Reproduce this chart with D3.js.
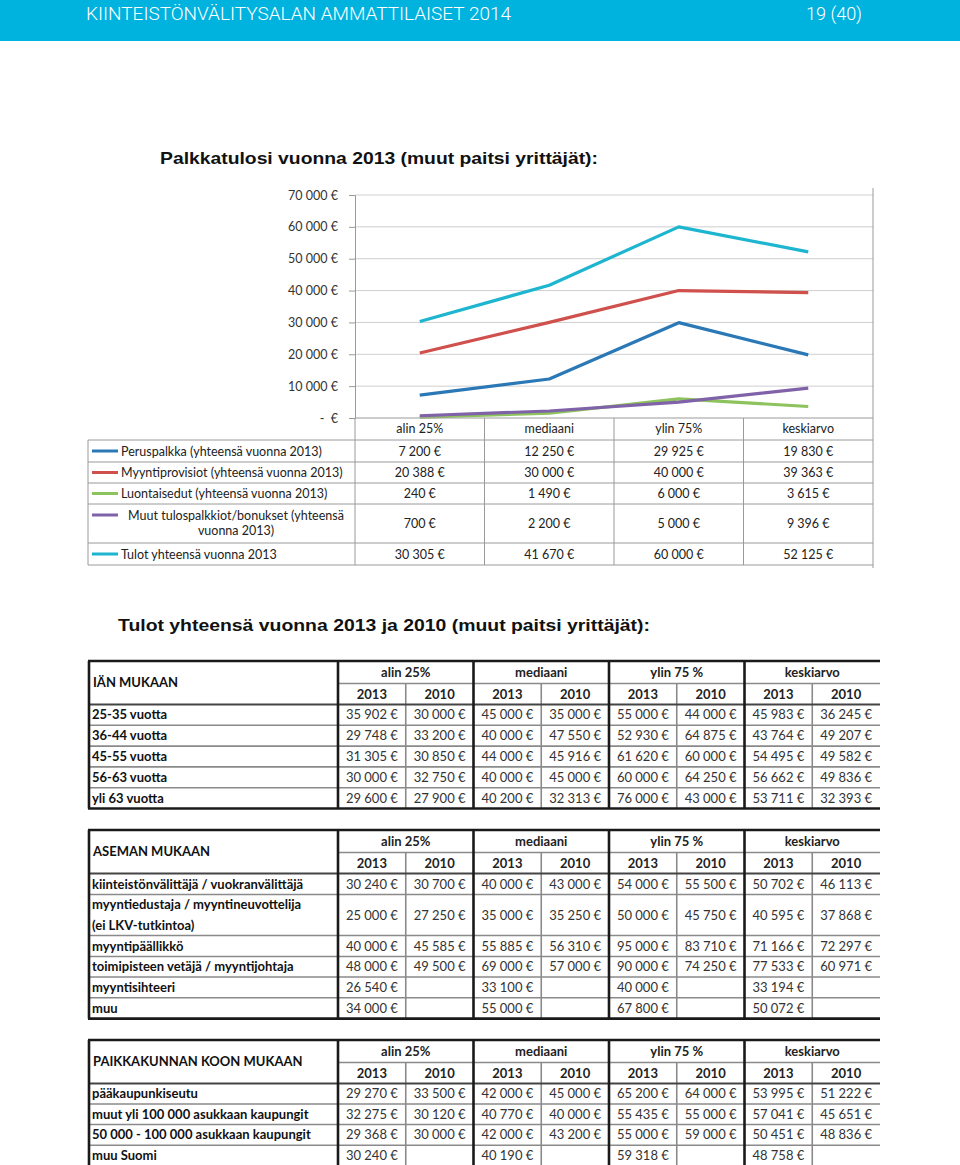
<!DOCTYPE html>
<html><head><meta charset="utf-8">
<script src="https://cdn.jsdelivr.net/npm/d3@7"></script>
<style>body{margin:0;background:#fff}svg{display:block}</style>
</head><body><svg id="c" width="960" height="1165"></svg>
<script>
// ---------- DATA ----------
const headerTitle = "KIINTEISTÖNVÄLITYSALAN AMMATTILAISET 2014";
const pageNo = "19 (40)";
const chartTitle = "Palkkatulosi vuonna 2013 (muut paitsi yrittäjät):";
const tableTitle = "Tulot yhteensä vuonna 2013 ja 2010 (muut paitsi yrittäjät):";

const categories = ["alin 25%", "mediaani", "ylin 75%", "keskiarvo"];
const seriesNames = [
  ["Peruspalkka (yhteensä vuonna 2013)"],
  ["Myyntiprovisiot (yhteensä vuonna 2013)"],
  ["Luontaisedut (yhteensä vuonna 2013)"],
  ["Muut tulospalkkiot/bonukset (yhteensä", "vuonna 2013)"],
  ["Tulot yhteensä vuonna 2013"]
];
const peruspalkka = [7200, 12250, 29925, 19830];
const myyntiprovisiot = [20388, 30000, 40000, 39363];
const luontaisedut = [240, 1490, 6000, 3615];
const muutBonukset = [700, 2200, 5000, 9396];
const tulotYhteensa = [30305, 41670, 60000, 52125];
const seriesColors = ["#2a78b6", "#cf504c", "#8dc35c", "#7f62a8", "#1db5cf"];
const yTicks = [0, 10000, 20000, 30000, 40000, 50000, 60000, 70000];

const groups = ["alin 25%", "mediaani", "ylin 75 %", "keskiarvo"];
const years = ["2013", "2010"];

const ageTitle = "IÄN MUKAAN";
const ageRows = [["25-35 vuotta"], ["36-44 vuotta"], ["45-55 vuotta"], ["56-63 vuotta"], ["yli 63 vuotta"]];
const ageValues = [
  [35902, 30000, 45000, 35000, 55000, 44000, 45983, 36245],
  [29748, 33200, 40000, 47550, 52930, 64875, 43764, 49207],
  [31305, 30850, 44000, 45916, 61620, 60000, 54495, 49582],
  [30000, 32750, 40000, 45000, 60000, 64250, 56662, 49836],
  [29600, 27900, 40200, 32313, 76000, 43000, 53711, 32393]
];

const posTitle = "ASEMAN MUKAAN";
const posRows = [
  ["kiinteistönvälittäjä / vuokranvälittäjä"],
  ["myyntiedustaja / myyntineuvottelija", "(ei LKV-tutkintoa)"],
  ["myyntipäällikkö"],
  ["toimipisteen vetäjä / myyntijohtaja"],
  ["myyntisihteeri"],
  ["muu"]
];
const posValues = [
  [30240, 30700, 40000, 43000, 54000, 55500, 50702, 46113],
  [25000, 27250, 35000, 35250, 50000, 45750, 40595, 37868],
  [40000, 45585, 55885, 56310, 95000, 83710, 71166, 72297],
  [48000, 49500, 69000, 57000, 90000, 74250, 77533, 60971],
  [26540, null, 33100, null, 40000, null, 33194, null],
  [34000, null, 55000, null, 67800, null, 50072, null]
];

const sizeTitle = "PAIKKAKUNNAN KOON MUKAAN";
const sizeRows = [["pääkaupunkiseutu"], ["muut yli 100 000 asukkaan kaupungit"], ["50 000 - 100 000 asukkaan kaupungit"], ["muu Suomi"]];
const sizeValues = [
  [29270, 33500, 42000, 45000, 65200, 64000, 53995, 51222],
  [32275, 30120, 40770, 40000, 55435, 55000, 57041, 45651],
  [29368, 30000, 42000, 43200, 55000, 59000, 50451, 48836],
  [30240, null, 40190, null, 59318, null, 48758, null]
];

// ---------- HELPERS ----------
const grp = d3.format(",");
const eur = v => grp(v).replace(/,/g, "\u00a0") + "\u00a0€";
const axisFmt = v => v === 0 ? "-\u00a0\u00a0€" : eur(v);
const svg = d3.select("#c");
const FONT = "Lato, 'Open Sans', sans-serif";

// ---------- HEADER ----------
svg.append("rect").attr("x", 0).attr("y", 0).attr("width", 960).attr("height", 41).attr("fill", "#00b2de");
svg.append("text").attr("x", 86).attr("y", 20).attr("fill", "#fff")
  .attr("font-family", "Roboto, sans-serif").attr("font-weight", 300).attr("font-size", 18)
  .attr("textLength", 425).attr("lengthAdjust", "spacingAndGlyphs").text(headerTitle);
svg.append("text").attr("x", 862).attr("y", 20).attr("fill", "#fff").attr("text-anchor", "end")
  .attr("font-family", "Roboto, sans-serif").attr("font-weight", 300).attr("font-size", 18).text(pageNo);

svg.append("text").attr("x", 160).attr("y", 164).attr("fill", "#111")
  .attr("font-family", "'Liberation Sans', Arial, sans-serif").attr("font-weight", 700).attr("font-size", 16.5)
  .attr("textLength", 438).attr("lengthAdjust", "spacingAndGlyphs").text(chartTitle);

// ---------- CHART ----------
const x = d3.scaleBand().domain(categories).range([355, 873]);
const cx = c => x(c) + x.bandwidth() / 2;
const y = d3.scaleLinear().domain([0, 70000]).range([418, 195]);

const chart = svg.append("g");
chart.selectAll("line.grid").data(yTicks.filter(d => d > 0)).join("line")
  .attr("x1", 355).attr("x2", 873).attr("y1", d => y(d)).attr("y2", d => y(d))
  .attr("stroke", "#cfcfcf").attr("stroke-width", 1);

const yAxis = chart.append("g").attr("transform", "translate(355,0)")
  .call(d3.axisLeft(y).tickValues(yTicks).tickSize(6).tickPadding(11).tickFormat(axisFmt));
yAxis.select(".domain").attr("stroke", "#9a9a9a");
yAxis.selectAll(".tick line").attr("stroke", "#9a9a9a");
yAxis.selectAll("text").attr("font-family", FONT).attr("font-size", 12.5).attr("fill", "#333");

// plot right border
chart.append("line").attr("x1", 873).attr("x2", 873).attr("y1", 188).attr("y2", 568).attr("stroke", "#9a9a9a");

const allSeries = [peruspalkka, myyntiprovisiot, luontaisedut, muutBonukset, tulotYhteensa];
const line = d3.line().x((d, i) => cx(categories[i])).y(d => y(d));
chart.selectAll("path.series").data(allSeries).join("path")
  .attr("d", d => line(d)).attr("fill", "none")
  .attr("stroke", (d, i) => seriesColors[i]).attr("stroke-width", 3.2)
  .attr("stroke-linejoin", "round").attr("stroke-linecap", "butt");

// ---------- DATA TABLE UNDER CHART ----------
const tbl = svg.append("g");
const rowEdges = [418, 440, 462, 483, 504, 543, 565];
const lc = "#9a9a9a";
// horizontal lines
rowEdges.forEach((ry, i) => {
  tbl.append("line").attr("x1", i === 0 ? 355 : 88).attr("x2", 873).attr("y1", ry).attr("y2", ry).attr("stroke", lc);
});
tbl.append("line").attr("x1", 88).attr("x2", 88).attr("y1", 440).attr("y2", 565).attr("stroke", lc);
categories.forEach(c => {
  tbl.append("line").attr("x1", x(c)).attr("x2", x(c)).attr("y1", 418).attr("y2", 565).attr("stroke", lc);
});
tbl.selectAll("text.cat").data(categories).join("text")
  .attr("x", d => cx(d)).attr("y", 433).attr("text-anchor", "middle")
  .attr("font-family", FONT).attr("font-size", 12.5).attr("fill", "#222").text(d => d);

seriesNames.forEach((lines, i) => {
  const top = rowEdges[i + 1], bot = rowEdges[i + 2], mid = (top + bot) / 2;
  tbl.append("line").attr("x1", 92).attr("x2", 118).attr("y1", lines.length > 1 ? top + 11 : mid).attr("y2", lines.length > 1 ? top + 11 : mid)
    .attr("stroke", seriesColors[i]).attr("stroke-width", 3);
  const t = tbl.append("text").attr("font-family", FONT).attr("font-size", 12.5).attr("fill", "#222");
  if (lines.length === 1) {
    t.attr("x", 121).attr("y", mid + 4.5).text(lines[0]);
  } else {
    lines.forEach((l, k) => {
      t.append("tspan").attr("x", 236).attr("text-anchor", "middle").attr("y", top + 15.5 + k * 15).text(l);
    });
  }
  allSeries[i].forEach((v, j) => {
    tbl.append("text").attr("x", cx(categories[j])).attr("y", mid + 4.5).attr("text-anchor", "middle")
      .attr("font-family", FONT).attr("font-size", 12.5).attr("fill", "#222").text(eur(v));
  });
});

// ---------- SECOND TITLE ----------
svg.append("text").attr("x", 118).attr("y", 631).attr("fill", "#111")
  .attr("font-family", "'Liberation Sans', Arial, sans-serif").attr("font-weight", 700).attr("font-size", 17)
  .attr("textLength", 532).attr("lengthAdjust", "spacingAndGlyphs").text(tableTitle);

// ---------- LOWER TABLES ----------
const subCols = [];
groups.forEach(g => years.forEach(yr => subCols.push(g + "|" + yr)));
const xs = d3.scaleBand().domain(subCols).range([338, 880]);
const xg = d3.scaleBand().domain(groups).range([338, 880]);

function drawTable(top, title, rows, values, rowHeights) {
  const g = svg.append("g");
  const hdr1 = 22.5, hdr2 = 21;
  const edges = [top + hdr1 + hdr2];
  rowHeights.forEach(h => edges.push(edges[edges.length - 1] + h));
  const bottom = edges[edges.length - 1];
  const dark = "#1a1a1a", gray = "#8a8a8a";
  // row separators (gray)
  edges.slice(1, -1).forEach(ey => g.append("line").attr("x1", 88).attr("x2", 880).attr("y1", ey).attr("y2", ey).attr("stroke", gray).attr("stroke-width", 1.6));
  // thin gray between group row and year row
  g.append("line").attr("x1", 338).attr("x2", 880).attr("y1", top + hdr1).attr("y2", top + hdr1).attr("stroke", gray).attr("stroke-width", 1.6);
  // thin gray sub column separators
  groups.forEach(gr => {
    const sx = xs(gr + "|2010");
    g.append("line").attr("x1", sx).attr("x2", sx).attr("y1", top + hdr1).attr("y2", Math.min(bottom, 1165)).attr("stroke", gray).attr("stroke-width", 1.6);
  });
  // header bottom line (dark)
  g.append("line").attr("x1", 88).attr("x2", 880).attr("y1", edges[0]).attr("y2", edges[0]).attr("stroke", "#444").attr("stroke-width", 2);
  // thick lines
  g.append("line").attr("x1", 88).attr("x2", 880).attr("y1", top).attr("y2", top).attr("stroke", dark).attr("stroke-width", 2.6);
  if (bottom < 1165) g.append("line").attr("x1", 88).attr("x2", 880).attr("y1", bottom).attr("y2", bottom).attr("stroke", dark).attr("stroke-width", 2.6);
  g.append("line").attr("x1", 89).attr("x2", 89).attr("y1", top).attr("y2", bottom).attr("stroke", dark).attr("stroke-width", 2.6);
  groups.forEach(gr => {
    g.append("line").attr("x1", xg(gr)).attr("x2", xg(gr)).attr("y1", top).attr("y2", bottom).attr("stroke", dark).attr("stroke-width", 2.6);
  });
  // header texts
  g.append("text").attr("x", 93).attr("y", top + (hdr1 + hdr2) / 2 + 4.5)
    .attr("font-family", FONT).attr("font-weight", 700).attr("font-size", 13).attr("fill", "#111").text(title);
  g.selectAll("text.grp").data(groups).join("text")
    .attr("x", d => xg(d) + xg.bandwidth() / 2).attr("y", top + hdr1 / 2 + 5).attr("text-anchor", "middle")
    .attr("font-family", FONT).attr("font-weight", 700).attr("font-size", 13).attr("fill", "#222").text(d => d);
  g.selectAll("text.yr").data(subCols).join("text")
    .attr("x", d => xs(d) + xs.bandwidth() / 2).attr("y", top + hdr1 + hdr2 / 2 + 5).attr("text-anchor", "middle")
    .attr("font-family", FONT).attr("font-weight", 700).attr("font-size", 13).attr("fill", "#222").text(d => d.split("|")[1]);
  // rows
  rows.forEach((lines, i) => {
    const t0 = edges[i], t1 = edges[i + 1], mid = (t0 + t1) / 2;
    const t = g.append("text").attr("font-family", FONT).attr("font-weight", 700).attr("font-size", 13).attr("fill", "#111");
    lines.forEach((l, k) => {
      t.append("tspan").attr("x", 92).attr("y", mid + 4.5 + (k - (lines.length - 1) / 2) * 20.5).text(l);
    });
    values[i].forEach((v, j) => {
      if (v == null) return;
      g.append("text").attr("x", xs(subCols[j]) + xs.bandwidth() / 2).attr("y", mid + 4.5).attr("text-anchor", "middle")
        .attr("font-family", FONT).attr("font-size", 13).attr("fill", "#333").text(eur(v));
    });
  });
}

drawTable(661, ageTitle, ageRows, ageValues, [20.8, 20.8, 20.8, 20.8, 20.8]);
drawTable(830, posTitle, posRows, posValues, [21, 41, 21, 20.5, 20.8, 20.8]);
drawTable(1040, sizeTitle, sizeRows, sizeValues, [20.5, 20.5, 20.8, 21]);
</script>
</body></html>
